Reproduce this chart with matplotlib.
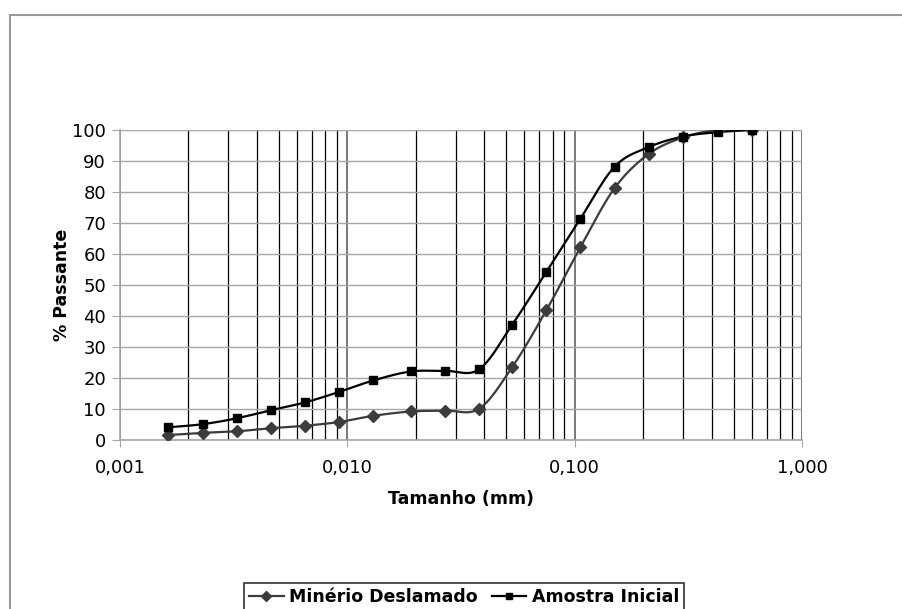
import matplotlib

matplotlib.use("Agg")

import matplotlib.pyplot as plt
import numpy as np
from matplotlib.lines import Line2D
from matplotlib.ticker import FixedLocator, FuncFormatter, NullFormatter

# sieve / cyclosizer sizes (mm)
tamanho = [0.00163, 0.00231, 0.00326, 0.0046, 0.0065, 0.0092, 0.013, 0.019, 0.027,
           0.038, 0.053, 0.075, 0.106, 0.150, 0.212, 0.300, 0.425, 0.600]
minerio_deslamado = [1.6, 2.3, 2.8, 3.8, 4.6, 5.8, 7.8, 9.2, 9.5,
                     10.1, 23.4, 41.8, 62.2, 81.3, 92.3, 97.6, 100.0, 100.0]
amostra_inicial = [4.1, 5.1, 7.0, 9.6, 12.1, 15.5, 19.2, 22.1, 22.3,
                   22.8, 37.1, 54.2, 71.4, 88.2, 94.5, 97.9, 99.3, 100.0]

x_major = [0.001, 0.01, 0.1, 1.0]
y_ticks = list(range(0, 101, 10))

GRAY = "#a6a6a6"


def smooth(xs, ys, n=20):
    # Excel-style smoothed line: uniform Catmull-Rom in (log x, y)
    u = np.log10(np.asarray(xs, dtype=float))
    v = np.asarray(ys, dtype=float)
    pu = np.concatenate([[u[0]], u, [u[-1]]])
    pv = np.concatenate([[v[0]], v, [v[-1]]])
    out_u, out_v = [], []
    t = np.linspace(0, 1, n, endpoint=False)
    for i in range(1, len(pu) - 2):
        for p, out in ((pu, out_u), (pv, out_v)):
            p0, p1, p2, p3 = p[i - 1], p[i], p[i + 1], p[i + 2]
            c1 = p1 + (p2 - p0) / 6
            c2 = p2 - (p3 - p1) / 6
            out.extend((1 - t) ** 3 * p1 + 3 * (1 - t) ** 2 * t * c1
                       + 3 * (1 - t) * t ** 2 * c2 + t ** 3 * p2)
    out_u.append(u[-1])
    out_v.append(v[-1])
    return 10 ** np.array(out_u), np.array(out_v)


def fmt_comma(value, _pos):
    return f"{value:.3f}".replace(".", ",")


fig = plt.figure(figsize=(9.02, 6.09), dpi=100)
fig.patch.set_facecolor("white")
ax = fig.add_axes([120 / 902, 1 - 440 / 609, 682 / 902, 310 / 609])

series = [
    ("Minério Deslamado", minerio_deslamado, "#3c3c3c", "D", 6.5),
    ("Amostra Inicial", amostra_inicial, "black", "s", 6),
]
for label, ys, color, marker, ms in series:
    sx, sy = smooth(tamanho, ys)
    ax.plot(sx, sy, color=color, lw=1.6, zorder=3)
    ax.plot(tamanho, ys, ls="none", marker=marker, ms=ms, color=color, zorder=4)

ax.set_xscale("log")
ax.set_xlim(0.001, 1.0)
ax.set_ylim(0, 100)
ax.xaxis.set_major_locator(FixedLocator(x_major))
ax.xaxis.set_major_formatter(FuncFormatter(fmt_comma))
ax.xaxis.set_minor_formatter(NullFormatter())
ax.set_yticks(y_ticks)

ax.grid(axis="y", which="major", color=GRAY, lw=1)
ax.grid(axis="x", which="major", color="#6e6e6e", lw=1.3)
ax.grid(axis="x", which="minor", color="black", lw=0.9)
ax.set_axisbelow(True)

for side in ("top", "right"):
    ax.spines[side].set_visible(False)
for side in ("left", "bottom"):
    ax.spines[side].set_color(GRAY)
    ax.spines[side].set_linewidth(1.2)

ax.tick_params(axis="y", which="major", length=6, color=GRAY, labelsize=13, pad=4)
ax.tick_params(axis="x", which="major", length=5, color=GRAY, labelsize=13, pad=9)
ax.tick_params(axis="x", which="minor", length=0)

ax.set_xlabel("Tamanho (mm)", fontsize=12.5, fontweight="bold", labelpad=9)
ax.set_ylabel("% Passante", fontsize=12.5, fontweight="bold", labelpad=1)

# chart-area border (cropped at the right and bottom)
fig.add_artist(Line2D([10 / 902, 1.0], [1 - 15 / 609, 1 - 15 / 609],
                      transform=fig.transFigure, color="#9a9a9a", lw=1.5))
fig.add_artist(Line2D([10 / 902, 10 / 902], [1 - 15 / 609, 0.0],
                      transform=fig.transFigure, color="#9a9a9a", lw=1.5))

handles = [
    Line2D([], [], color="#3c3c3c", lw=1.6, marker="D", ms=5),
    Line2D([], [], color="black", lw=1.6, marker="s", ms=4.5),
]
leg = fig.legend(handles, [s[0] for s in series], loc="upper center",
                 bbox_to_anchor=(464 / 902, 1 - 583 / 609), ncol=2,
                 frameon=True, fancybox=False, handlelength=2.0,
                 handletextpad=0.3, columnspacing=0.8, borderpad=0.3,
                 borderaxespad=0.0,
                 prop={"size": 12.5, "weight": "bold"})
leg.get_frame().set_edgecolor("black")
leg.get_frame().set_linewidth(1.2)

fig.savefig("out.png", dpi=100)
